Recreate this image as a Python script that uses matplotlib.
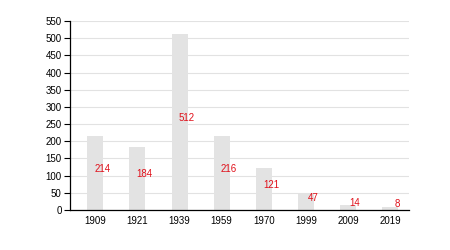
import matplotlib
matplotlib.use("Agg")
import matplotlib.pyplot as plt

years = ["1909", "1921", "1939", "1959", "1970", "1999", "2009", "2019"]
values = [214, 184, 512, 216, 121, 47, 14, 8]
yticks = list(range(0, 551, 50))

plt.rcParams['font.family'] = ['Liberation Sans', 'DejaVu Sans']
fig = plt.figure(figsize=(4.5, 2.5), dpi=100)
ax = fig.add_axes([0.1556, 0.16, 0.7533, 0.756])

x = list(range(len(years)))
ax.bar(x, values, width=0.38, color="#e3e3e3", zorder=2)
for xi, v in zip(x, values):
    ax.annotate(str(v), (xi + 0.17, v / 2), xytext=(0, 3), textcoords="offset points",
                ha="center", va="center", color="#e0101a", fontsize=7, zorder=3)

ax.set_xlim(-0.6, 7.45)
ax.set_ylim(0, 550)
ax.set_yticks(yticks)
ax.set_xticks(x)
ax.set_xticklabels(years)
ax.tick_params(axis="y", length=4, width=0.8, labelsize=7, pad=2)
ax.tick_params(axis="x", length=0, labelsize=7, pad=4)
ax.yaxis.grid(True, color="#e2e2e2", linewidth=0.8, zorder=0)
ax.set_axisbelow(True)
for s in ["top", "right"]:
    ax.spines[s].set_visible(False)
ax.spines["left"].set_linewidth(0.9)
ax.spines["bottom"].set_linewidth(0.9)

fig.savefig("out.png", dpi=100)
